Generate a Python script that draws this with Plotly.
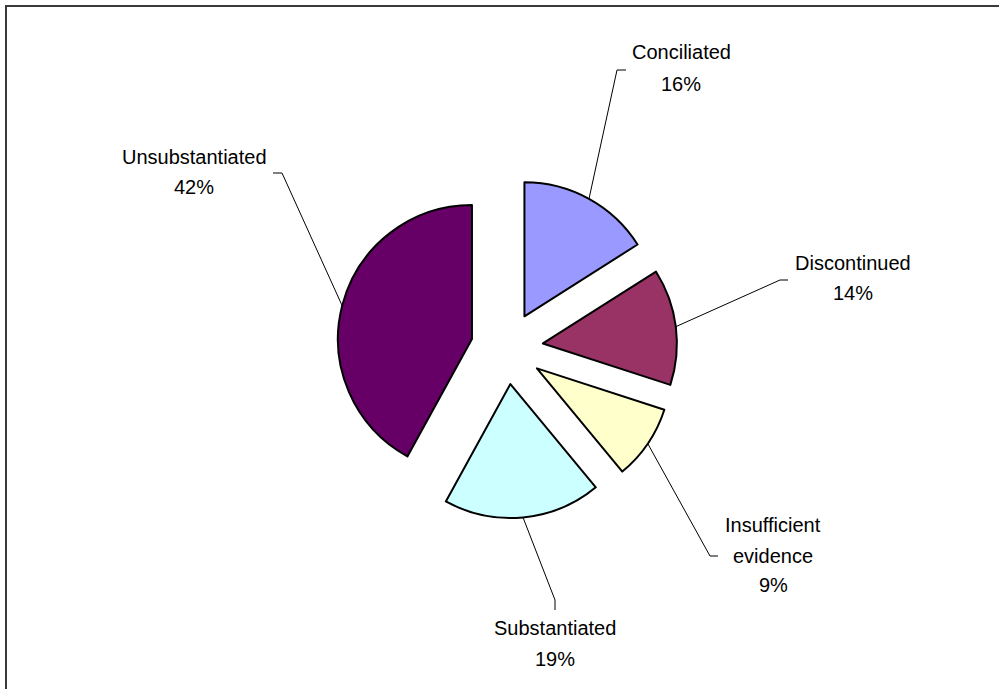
import math
import plotly.graph_objects as go

# ---- data ----
categories = ["Conciliated", "Discontinued", "Insufficient evidence", "Substantiated", "Unsubstantiated"]
values = [16, 14, 9, 19, 42]
label_lines = [["Conciliated"], ["Discontinued"], ["Insufficient", "evidence"], ["Substantiated"], ["Unsubstantiated"]]

# ---- styles / layout ----
colors = ["#9999FF", "#993366", "#FFFFCC", "#CCFFFF", "#660066"]
W, H = 999, 689
PULL = 0.27
CX, CY = 507, 348          # pie centre (px)
R = 134                    # pie radius (px)
half = R * (1 + PULL)

def px(x):
    return x / W

def py(y):
    return 1 - y / H

fig = go.Figure(go.Pie(
    labels=categories,
    values=values,
    sort=False,
    direction="clockwise",
    rotation=0,
    pull=[PULL] * len(values),
    marker=dict(colors=colors, line=dict(color="#000000", width=2)),
    textinfo="none",
    hoverinfo="label+percent",
    domain=dict(x=[px(CX - half), px(CX + half)], y=[py(CY + half), py(CY - half)]),
    showlegend=False,
))

# label placement (text centre x, line centre ys) and leader elbow / stub end
label_pos = [
    (681, [52, 84]),
    (853, [263, 293]),
    (773, [525, 556, 585]),
    (555, [628, 659]),
    (194, [157, 187]),
]
leader_pts = [
    ((617, 70), (626, 70)),
    ((780, 280), (788, 280)),
    ((710, 556), (718, 556)),
    ((555, 600), (555, 610)),
    ((282, 173), (273, 173)),
]

total = sum(values)
annotations = []
shapes = []
cum = 0
for i, v in enumerate(values):
    mid = (cum + v / 2) / total * 2 * math.pi
    cum += v
    dx, dy = math.sin(mid), -math.cos(mid)
    ex = CX + dx * R * (1 + PULL)
    ey = CY + dy * R * (1 + PULL)
    (elx, ely), (sx, sy) = leader_pts[i]
    shapes.append(dict(
        type="path", xref="paper", yref="paper",
        path=f"M {px(ex)} {py(ey)} L {px(elx)} {py(ely)} L {px(sx)} {py(sy)}",
        line=dict(color="#000000", width=1),
    ))
    pct = f"{round(v / total * 100)}%"
    lines = label_lines[i] + [pct]
    cx, ys = label_pos[i]
    for t, yy in zip(lines, ys):
        annotations.append(dict(
            x=px(cx), y=py(yy), xref="paper", yref="paper",
            text=t, showarrow=False, xanchor="center", yanchor="middle",
            font=dict(family="Liberation Sans, Arial, sans-serif", size=20, color="#000000"),
        ))

# chart frame (only top & left edges visible in the crop)
frame_line = dict(color="#3a3a3a", width=2)
shapes.append(dict(type="line", xref="paper", yref="paper",
                   x0=px(5), y0=py(6), x1=px(W), y1=py(6), line=frame_line))
shapes.append(dict(type="line", xref="paper", yref="paper",
                   x0=px(6), y0=py(5), x1=px(6), y1=py(H), line=frame_line))

fig.update_layout(
    width=W, height=H,
    margin=dict(l=0, r=0, t=0, b=0),
    paper_bgcolor="#FFFFFF",
    plot_bgcolor="#FFFFFF",
    annotations=annotations,
    shapes=shapes,
)

fig.write_html("out.html")
